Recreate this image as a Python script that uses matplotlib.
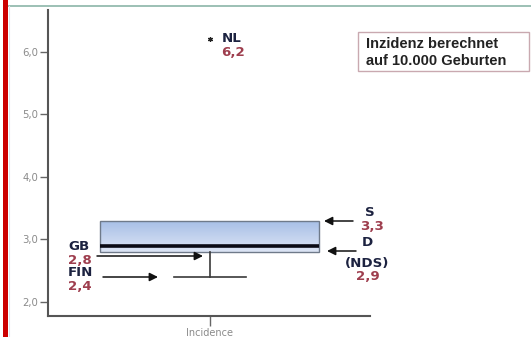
import numpy as np
import matplotlib
matplotlib.use("Agg")
import matplotlib.pyplot as plt
from matplotlib.colors import LinearSegmentedColormap

# ---- data ----
category = ["Incidence"]
q1 = [2.8]
median = [2.9]
q3 = [3.3]
whisker_low = [2.4]
whisker_high = [3.3]
outliers = [[6.2]]
yticks = [2.0, 3.0, 4.0, 5.0, 6.0]
ytick_labels = ["2,0", "3,0", "4,0", "5,0", "6,0"]
country_labels = ["NL", "GB", "FIN", "S", "D"]
country_values = ["6,2", "2,8", "2,4", "3,3", "2,9"]
note_lines = ["Inzidenz berechnet", "auf 10.000 Geburten"]

W, H = 531, 337
fig = plt.figure(figsize=(W / 100, H / 100), dpi=100)
fig.patch.set_facecolor("white")

def fx(px):
    return px / W

def fy(py):
    return 1 - py / H

# axes placement
ax = fig.add_axes([fx(48), fy(315.7), (370 - 48) / W, (315.7 - 10) / H])
ax.set_facecolor("none")

stats = []
for i in range(len(category)):
    stats.append(dict(label=category[i], med=median[i], q1=q1[i], q3=q3[i],
                      whislo=whisker_low[i], whishi=whisker_high[i], fliers=outliers[i]))

pos = [1.0]
res = ax.bxp(stats, positions=pos, widths=0.68, patch_artist=True, capwidths=0.226,
             showcaps=True,
             boxprops=dict(facecolor="none", edgecolor="#6f7a8a", linewidth=1.0),
             medianprops=dict(color="#0a0a14", linewidth=2.6),
             whiskerprops=dict(color="#3a3a3a", linewidth=1.2),
             capprops=dict(color="#3a3a3a", linewidth=1.2),
             flierprops=dict(marker=(6, 2, 0), markersize=3.5, markeredgecolor="#222",
                             markerfacecolor="#222", linestyle="none", markeredgewidth=0.9))
# hide upper cap (coincides with box top)
for c in res["caps"][1::2]:
    c.set_visible(False)

# gradient fill in box
cmap = LinearSegmentedColormap.from_list("g", ["#dde5f5", "#a6bee6"])
grad = np.linspace(0, 1, 100).reshape(-1, 1)
for i, b in enumerate(res["boxes"]):
    im = ax.imshow(grad, cmap=cmap, aspect="auto", origin="lower",
                   extent=[pos[i] - 0.34, pos[i] + 0.34, q1[i], q3[i]], zorder=1.5)
    im.set_clip_path(b)
    b.set_zorder(2)

ax.set_xlim(0.497, 1.497)
ax.set_ylim(1.78, 6.67)
ax.set_yticks(yticks)
ax.set_yticklabels(ytick_labels)
ax.set_xticks(pos)
ax.set_xticklabels(category)
for s in ["top", "right"]:
    ax.spines[s].set_visible(False)
for s in ["left", "bottom"]:
    ax.spines[s].set_color("#555555")
    ax.spines[s].set_linewidth(1.5)
ax.tick_params(axis="y", length=6, width=1.0, color="#666666", labelsize=7.3,
               labelcolor="#8a8a8a", pad=1)
ax.tick_params(axis="x", length=7, width=1.0, color="#666666", labelsize=7,
               labelcolor="#8a8a8a", pad=2)

# annotations
navy = "#1c2240"
red = "#9e3e4e"
fnt = dict(fontsize=9.6, fontweight="bold", family="DejaVu Sans")

def t(px, py, s, color, ha="left"):
    fig.text(fx(px), fy(py), s, color=color, ha=ha, va="center", **fnt)

t(222, 38, country_labels[0], navy)
t(221, 52, country_values[0], red)
t(68, 246, country_labels[1], navy)
t(68, 260, country_values[1], red)
t(68, 273, country_labels[2], navy)
t(68, 287, country_values[2], red)
t(370, 212, country_labels[3], navy, ha="center")
t(372, 226, country_values[3], red, ha="center")
t(367, 243, country_labels[4], navy, ha="center")
t(367, 264, "(NDS)", navy, ha="center")
t(368, 277, country_values[4], red, ha="center")

def arrow(x0, y0, x1, y1):
    fig.add_artist(matplotlib.patches.FancyArrowPatch(
        (fx(x0), fy(y0)), (fx(x1), fy(y1)), transform=fig.transFigure,
        arrowstyle="-|>,head_length=5,head_width=2.5", color="#111111", lw=1.1,
        shrinkA=0, shrinkB=0))

arrow(97, 256, 203, 256)
arrow(103, 277, 158, 277)
arrow(353, 221, 324, 221)
arrow(356, 251, 327, 251)

# note box
fig.add_artist(matplotlib.patches.Rectangle((fx(358), fy(71)), (529 - 358) / W, (71 - 32) / H,
               transform=fig.transFigure, facecolor="white", edgecolor="#c9a9b0", lw=1.0))
fig.text(fx(366), fy(44), note_lines[0], color="#222222", fontsize=10.5, fontweight="bold",
         family="Liberation Sans", va="center", ha="left")
fig.text(fx(366), fy(61), note_lines[1], color="#222222", fontsize=10.5, fontweight="bold",
         family="Liberation Sans", va="center", ha="left")

# frame decorations
fig.add_artist(matplotlib.lines.Line2D([fx(7), 1], [fy(6), fy(6)], transform=fig.transFigure,
               color="#9cc0b4", lw=1.4))
fig.add_artist(matplotlib.lines.Line2D([fx(8.5), fx(8.5)], [0, fy(6)], transform=fig.transFigure,
               color="#dde6ee", lw=0.8))
fig.add_artist(matplotlib.lines.Line2D([fx(4.5), fx(4.5)], [0, 1], transform=fig.transFigure,
               color="#cc0000", lw=3.6))

fig.savefig("out.png", dpi=100)
